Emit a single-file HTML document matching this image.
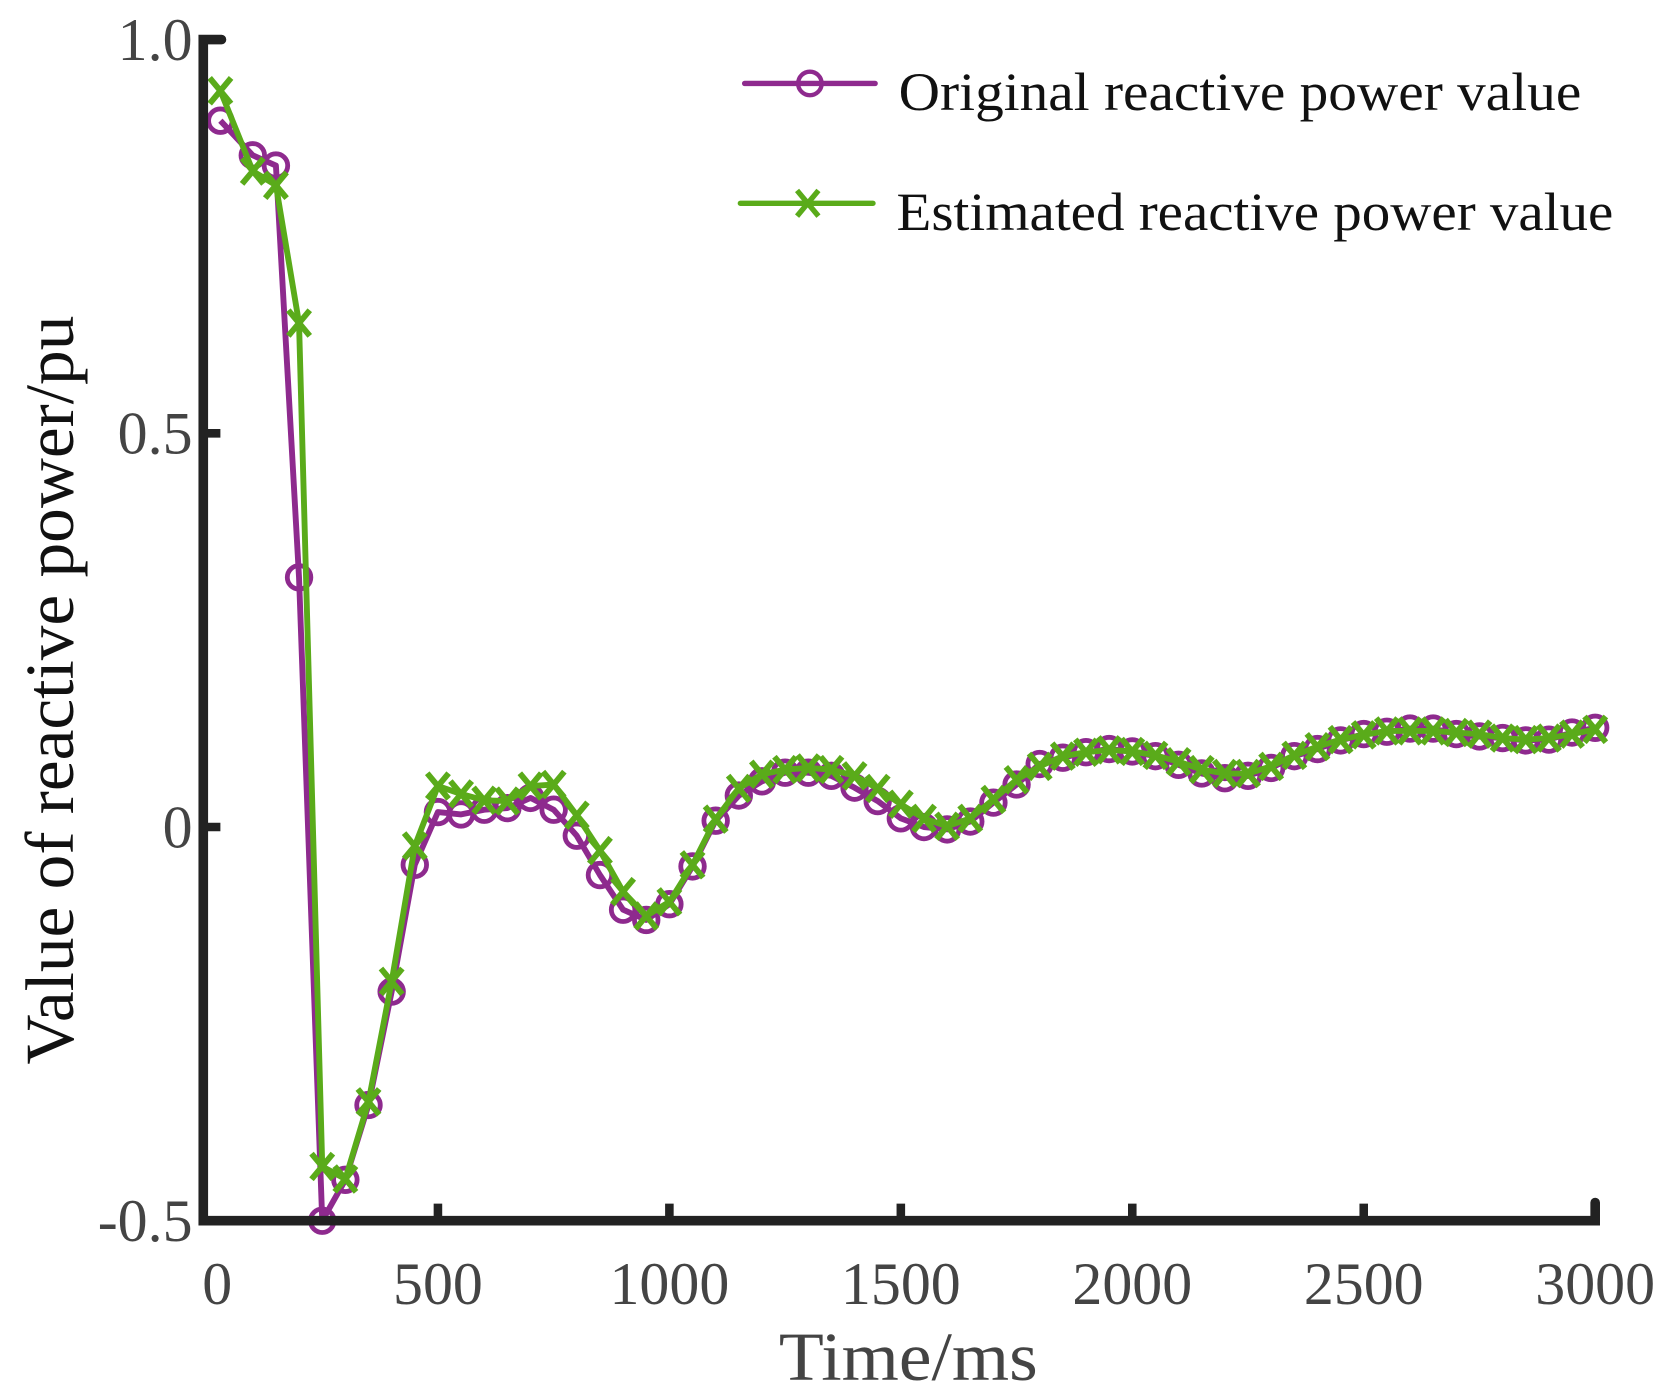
<!DOCTYPE html>
<html><head><meta charset="utf-8"><style>html,body{margin:0;padding:0;background:#fff}svg{display:block}</style></head>
<body>
<svg id="chart" width="1669" height="1393" viewBox="0 0 1560 1302" preserveAspectRatio="none" xmlns="http://www.w3.org/2000/svg" font-family="'Liberation Serif', serif">
<g id="plot"></g>
<g id="axes"></g>
<g id="legend">
  <g>
    <line x1="696" y1="78" x2="818" y2="78" stroke="#8e2a8e" stroke-width="5" stroke-linecap="round"/>
    <circle cx="757" cy="78" r="11" fill="none" stroke="#8e2a8e" stroke-width="4"/>
    <text x="840" y="103" font-size="50" fill="#111" textLength="638" lengthAdjust="spacingAndGlyphs">Original reactive power value</text>
  </g>
  <g>
    <line x1="692" y1="190" x2="816" y2="190" stroke="#5aab1a" stroke-width="5" stroke-linecap="round"/>
    <path d="M745 178 L765 202 M765 178 L745 202" stroke="#5aab1a" stroke-width="5"/>
    <text x="838" y="215" font-size="50" fill="#111" textLength="670" lengthAdjust="spacingAndGlyphs">Estimated reactive power value</text>
  </g>
</g>
<text x="849" y="1290" font-size="64" fill="#444" text-anchor="middle" textLength="242" lengthAdjust="spacingAndGlyphs">Time/ms</text>
<text transform="translate(68,645) rotate(-90)" font-size="64" fill="#111" text-anchor="middle" textLength="700" lengthAdjust="spacingAndGlyphs">Value of reactive power/pu</text>
<script>
const times = [30,100,150,200,250,300,350,400,450,500,550,600,650,700,750,800,850,900,950,1000,1050,1100,1150,1200,1250,1300,1350,1400,1450,1500,1550,1600,1650,1700,1750,1800,1850,1900,1950,2000,2050,2100,2150,2200,2250,2300,2350,2400,2450,2500,2550,2600,2650,2700,2750,2800,2850,2900,2950,3000];
const originalValues = [0.897,0.853,0.84,0.317,-0.5,-0.448,-0.353,-0.209,-0.048,0.019,0.016,0.022,0.024,0.037,0.022,-0.011,-0.061,-0.105,-0.118,-0.098,-0.05,0.008,0.04,0.058,0.069,0.069,0.065,0.05,0.033,0.011,0.0,-0.003,0.007,0.031,0.054,0.08,0.088,0.095,0.099,0.096,0.09,0.079,0.068,0.062,0.065,0.075,0.09,0.099,0.11,0.118,0.121,0.125,0.125,0.118,0.115,0.113,0.11,0.111,0.12,0.126];
const estimatedValues = [0.935,0.833,0.815,0.64,-0.431,-0.447,-0.349,-0.196,-0.024,0.052,0.042,0.034,0.033,0.052,0.054,0.015,-0.03,-0.082,-0.113,-0.095,-0.048,0.01,0.049,0.067,0.073,0.075,0.073,0.065,0.049,0.029,0.011,0.001,0.011,0.035,0.06,0.077,0.09,0.095,0.098,0.096,0.091,0.083,0.073,0.068,0.068,0.077,0.091,0.102,0.111,0.117,0.122,0.122,0.122,0.12,0.118,0.113,0.111,0.113,0.118,0.124];
const xTicks = [0,500,1000,1500,2000,2500,3000];
const yTicks = [-0.5,0,0.5,1.0];
const yTickLabels = ["-0.5","0","0.5","1.0"];

const NS = "http://www.w3.org/2000/svg";
const xS = t => 193 + t * (1491 - 193) / 3000;
const yS = v => 773 - v * 736;
function mk(tag, attrs, parent){ const e=document.createElementNS(NS,tag); for(const k in attrs) e.setAttribute(k,attrs[k]); parent.appendChild(e); return e; }
const plot = document.getElementById('plot');
const axes = document.getElementById('axes');

function series(vals, color, kind, name){
  const g = mk('g',{},plot);
  
  
  const pts = times.map((t,i)=>xS(t).toFixed(1)+','+yS(vals[i]).toFixed(1)).join(' ');
  const pl = mk('polyline',{points:pts,fill:'none',stroke:color,'stroke-width':5.5,'stroke-linejoin':'round'},g);
  
  
  times.forEach((t,i)=>{
    const x=xS(t), y=yS(vals[i]);
    let m;
    if(kind==='o'){ m = mk('circle',{cx:x,cy:y,r:11,fill:'none',stroke:color,'stroke-width':4.5},g); }
    else { m = mk('path',{d:`M${x-10} ${y-12} L${x+10} ${y+12} M${x+10} ${y-12} L${x-10} ${y+12}`,stroke:color,'stroke-width':5.5},g); }
    
    
  });
}
series(originalValues,'#8e2a8e','o','original-series');
series(estimatedValues,'#5aab1a','x','estimated-series');

const ya = mk('path',{d:`M207 37 L190 37 L190 1141 L1491 1141 L1491 1124`,fill:'none',stroke:'#222','stroke-width':9,'stroke-linecap':'round','stroke-linejoin':'miter'},axes);


yTicks.forEach((v,i)=>{
  const y=yS(v);
  const tk = mk('line',{x1:190,y1:y,x2:206,y2:y,stroke:'#222','stroke-width':8},axes);
  
  
  const tx = mk('text',{x:180,y:y+19,'font-size':56,fill:'#444','text-anchor':'end'},axes);
  tx.textContent = yTickLabels[i];
  
  
});
xTicks.forEach(t=>{
  const x = t===0 ? 203 : xS(t);
  if(t>0){
    const tk = mk('line',{x1:x,y1:1141,x2:x,y2:1125,stroke:'#222','stroke-width':8},axes);
    
    
  }
  const tx = mk('text',{x:x,y:1219,'font-size':56,fill:'#444','text-anchor':'middle'},axes);
  tx.textContent = String(t);
  
  
});
</script>
</svg>
</body></html>
